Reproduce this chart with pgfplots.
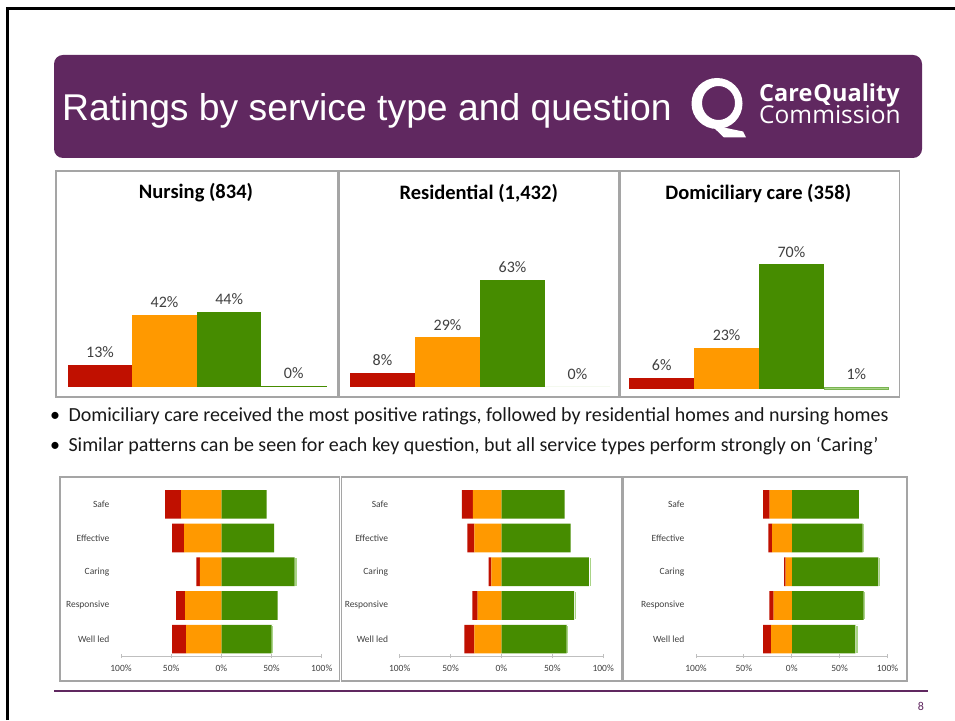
\documentclass[border=0pt]{standalone}
\usepackage{pgfplots}
\pgfplotsset{compat=1.18}
\usepackage{pgfplotstable}
\usepackage{fontspec}
\setmainfont{Carlito}
\newfontfamily\arialfont{Liberation Sans}
\newfontfamily\logofont{Open Sans}
\definecolor{cqcpurple}{RGB}{96,40,96}
\definecolor{rRed}{RGB}{192,16,0}
\definecolor{rOrange}{RGB}{255,153,0}
\definecolor{rGreen}{RGB}{70,140,0}
\definecolor{rLight}{RGB}{169,212,135}
\definecolor{rLightEdge}{RGB}{120,180,80}
\definecolor{txtgray}{RGB}{64,64,64}
\definecolor{framegray}{RGB}{165,165,165}
\definecolor{axgray}{RGB}{191,191,191}

% y: 0 = Well led ... 4 = Safe ; o and r are plotted to the left (negative)
\pgfplotstableread{
y o r g l
4 -40 -16 45 0
3 -37 -12 52.5 0
2 -21.5 -3.5 73 2.5
1 -36 -9 56 0.5
0 -35 -14 50 2
}\nursingq
\pgfplotstableread{
y o r g l
4 -28 -11 62 0
3 -26.5 -7 68 0
2 -10 -2.5 86 2.5
1 -23.5 -5 71.5 2
0 -26.5 -10 64 1.5
}\residentialq
\pgfplotstableread{
y o r g l
4 -23 -7 70 0
3 -20.5 -4 74 2
2 -6.3 -1.7 90.5 2
1 -19 -4.5 75 2
0 -21.5 -8.5 66.5 3
}\domiciliaryq

\pgfplotsset{
  topchart/.style={
    scale only axis, anchor=south west, clip=false,
    xmin=0, xmax=4, ymin=0, ymax=100, axis lines=none,
    ybar, bar width=1,
    /pgf/number format/assume math mode=true,
    nodes near coords={\pgfmathprintnumber[fixed,precision=0]{\pgfplotspointmeta}\%},
    every node near coord/.append style={font=\fontsize{16}{18}\selectfont, text=txtgray, inner sep=0pt, yshift=7pt},
  },
  botchart/.style={
    scale only axis, anchor=south west, height=168.5pt,
    xbar stacked, bar width=0.85,
    ymin=-0.5, ymax=4.5, xmin=-100, xmax=100,
    ytick={0,...,4}, yticklabels={Well led,Responsive,Caring,Effective,Safe},
    xtick={-100,-50,0,50,100}, xticklabels={100\%,50\%,0\%,50\%,100\%},
    axis x line*=bottom, axis y line*=left,
    y axis line style={draw=none}, ytick style={draw=none},
    x axis line style={draw=axgray, line width=1pt},
    xtick style={draw=axgray, line width=0.8pt},
    tick align=center, major tick length=4pt,
    tick label style={font=\fontsize{9.5}{11}\selectfont, text=txtgray},
    yticklabel style={anchor=east, inner sep=0pt, xshift=-9.5pt},
    xticklabel style={yshift=-3pt},
  },
}

\newcommand{\stackplots}[1]{%
  \addplot[draw=none, fill=rOrange] table[x=o, y=y] {#1};
  \addplot[draw=none, fill=rRed] table[x=r, y=y] {#1};
  \addplot[draw=none, fill=rGreen] table[x=g, y=y] {#1};
  \addplot[draw=white, line width=0.6pt, fill=rLight] table[x=l, y=y] {#1};
}

\begin{document}
\begin{tikzpicture}[x=1pt, y=1pt]
\useasboundingbox (0,0) rectangle (955,720);
\fill[white] (0,0) rectangle (955,720);
% slide frame
\draw[black, line width=2.5pt] (7.5,0) -- (7.5,711.3) -- (955,711.3);
% banner
\fill[cqcpurple, rounded corners=9pt] (54,562) rectangle (922,665);
\node[anchor=base west, inner sep=0pt, text=white, font=\arialfont\fontsize{37.3}{40}\selectfont] at (62,599) {Ratings by service type and question};
% logo
\fill[white, even odd rule] (717,616.5) ellipse (25.5 and 25.5) (718.5,617) ellipse (16.5 and 17);
\fill[white] (711,595) -- (724,582.5) -- (746,582.5) -- (743,588.5) -- (731,591) -- cycle;
\node[anchor=base west, inner sep=0pt, text=white, font=\logofont\bfseries\fontsize{23.5}{25}\selectfont] at (759,618.3) {Care\hspace{1pt}Quality};
\node[anchor=base west, inner sep=0pt, text=white, font=\logofont\fontsize{24.5}{26}\selectfont] at (759,596.2) {Commission};

% top panels
\draw[framegray, line width=1.2pt] (56,323) rectangle (338,549);
\draw[framegray, line width=1.2pt] (339.5,323) rectangle (619,549);
\draw[framegray, line width=1.2pt] (620.5,323) rectangle (899.5,549);
\node[anchor=base, inner sep=0pt, font=\bfseries\fontsize{20.5}{22}\selectfont] at (196,521.7) {Nursing (834)};
\node[anchor=base, inner sep=0pt, font=\bfseries\fontsize{20.5}{22}\selectfont] at (478.7,520.7) {Residential (1,432)};
\node[anchor=base, inner sep=0pt, font=\bfseries\fontsize{20.5}{22}\selectfont] at (758.3,520.7) {Domiciliary care (358)};

\begin{axis}[topchart, at={(67.7pt,333.3pt)}, width=258.3pt, height=170pt]
\addplot[fill=rRed, draw=none, bar shift=0pt] coordinates {(0.5,13)};
\addplot[fill=rOrange, draw=none, bar shift=0pt] coordinates {(1.5,42)};
\addplot[fill=rGreen, draw=none, bar shift=0pt] coordinates {(2.5,44)};
\addplot[fill=rLight, draw=rGreen, line width=0.8pt, bar shift=0pt] coordinates {(3.5,0.4)};
\end{axis}
\begin{axis}[topchart, at={(350pt,333.3pt)}, width=260pt, height=170pt]
\addplot[fill=rRed, draw=none, bar shift=0pt] coordinates {(0.5,8)};
\addplot[fill=rOrange, draw=none, bar shift=0pt] coordinates {(1.5,29)};
\addplot[fill=rGreen, draw=none, bar shift=0pt] coordinates {(2.5,63)};
\addplot[fill=rLight, draw=none, bar shift=0pt] coordinates {(3.5,0)};
\end{axis}
\begin{axis}[topchart, at={(629.3pt,331pt)}, width=259.4pt, height=178pt]
\addplot[fill=rRed, draw=none, bar shift=0pt] coordinates {(0.5,6)};
\addplot[fill=rOrange, draw=none, bar shift=0pt] coordinates {(1.5,23)};
\addplot[fill=rGreen, draw=none, bar shift=0pt] coordinates {(2.5,70)};
\addplot[fill=rLight, draw=rLightEdge, line width=0.6pt, bar shift=0pt] coordinates {(3.5,1)};
\end{axis}

% bullets
\node[anchor=base, inner sep=0pt, font=\fontsize{20}{24}\selectfont] at (55,298.3) {\textbullet};
\node[anchor=base west, inner sep=0pt, font=\fontsize{20}{24}\selectfont, text=black!90] at (68.3,298.3) {Domiciliary care received the most positive ratings, followed by residential homes and nursing homes};
\node[anchor=base, inner sep=0pt, font=\fontsize{20}{24}\selectfont] at (55,268.3) {\textbullet};
\node[anchor=base west, inner sep=0pt, font=\fontsize{20}{24}\selectfont, text=black!90] at (68.3,268.3) {Similar patterns can be seen for each key question, but all service types perform strongly on ‘Caring’};

% bottom panels
\draw[framegray, line width=1.2pt] (60,39) rectangle (339.5,243);
\draw[framegray, line width=1.2pt] (341.5,39) rectangle (622,243);
\draw[framegray, line width=1.2pt] (623.5,39) rectangle (907,243);

\begin{axis}[botchart, at={(121pt,64pt)}, width=200.7pt]
\stackplots{\nursingq}
\end{axis}
\begin{axis}[botchart, at={(399.7pt,64pt)}, width=203.5pt]
\stackplots{\residentialq}
\end{axis}
\begin{axis}[botchart, at={(696pt,64pt)}, width=191.5pt]
\stackplots{\domiciliaryq}
\end{axis}

% footer
\draw[cqcpurple, line width=2.5pt] (54,29) -- (928,29);
\node[inner sep=0pt, text=cqcpurple, font=\fontsize{12}{14}\selectfont] at (921,14) {8};
\end{tikzpicture}
\end{document}
